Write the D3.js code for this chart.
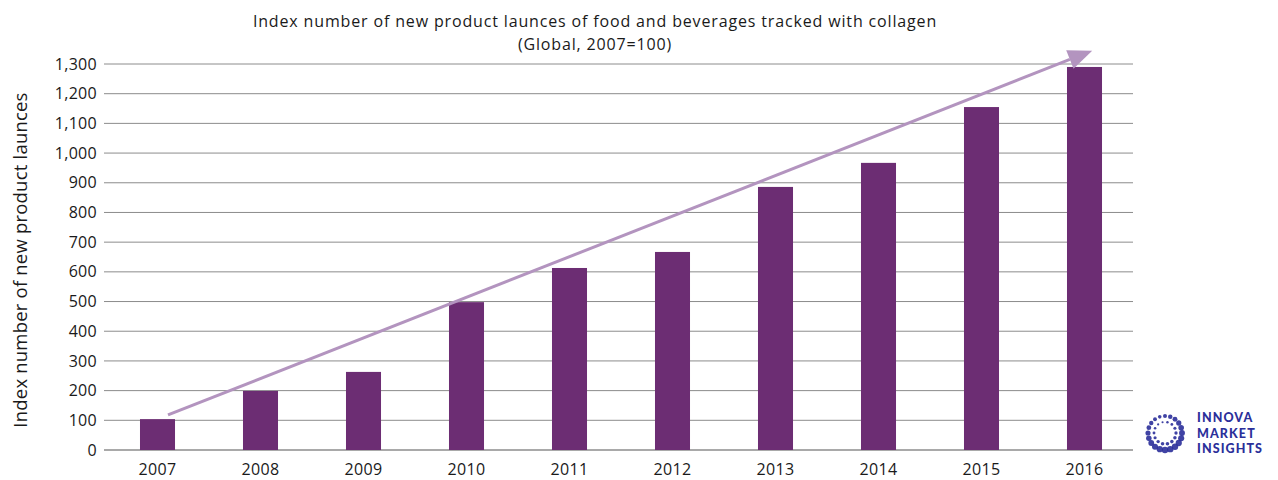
<!DOCTYPE html>
<html>
<head>
<meta charset="utf-8">
<script src="https://cdn.jsdelivr.net/npm/d3@7"></script>
<style>
  body { margin: 0; background: #fff; }
  svg { display: block; font-family: "Open Sans", "Noto Sans", sans-serif; }
</style>
</head>
<body>
<svg id="chart" width="1278" height="480"></svg>
<script>
const years = ["2007","2008","2009","2010","2011","2012","2013","2014","2015","2016"];
const indexValues = [104, 199, 263, 498, 613, 667, 886, 967, 1155, 1290];
const yTicks = [0,100,200,300,400,500,600,700,800,900,1000,1100,1200,1300];
// trend arrow endpoints: [category, value]
const trendStart = ["2007", 118];
const trendEnd = ["2016", 1345];

const svg = d3.select("#chart");
const W = 1278, H = 480;
const gridLeft = 104, gridRight = 1133;

const x = d3.scaleBand().domain(years).range([106, 1136]).paddingInner(0.66).paddingOuter(0.33);
const y = d3.scaleLinear().domain([0, 1300]).range([450, 64]);

// gridlines
svg.append("g").selectAll("line").data(yTicks).join("line")
  .attr("x1", gridLeft).attr("x2", gridRight)
  .attr("y1", d => y(d)).attr("y2", d => y(d))
  .attr("stroke", "#8c8c8c").attr("stroke-width", d => d === 0 ? 1.6 : 1);

// y tick labels
svg.append("g").selectAll("text").data(yTicks).join("text")
  .attr("x", gridLeft - 7).attr("y", d => y(d)).attr("dy", "0.35em")
  .attr("text-anchor", "end").attr("font-size", 16).attr("letter-spacing", 0.3).attr("fill", "#1a1a1a")
  .text(d => d3.format(",")(d));

// bars
svg.append("g").selectAll("rect").data(years).join("rect")
  .attr("x", d => x(d)).attr("width", x.bandwidth())
  .attr("y", (d, i) => y(indexValues[i])).attr("height", (d, i) => y(0) - y(indexValues[i]))
  .attr("fill", "#6c2d73");

// x labels
svg.append("g").selectAll("text").data(years).join("text")
  .attr("x", d => x(d) + x.bandwidth() / 2).attr("y", H - 5)
  .attr("text-anchor", "middle").attr("font-size", 16).attr("letter-spacing", 0.3).attr("fill", "#1a1a1a")
  .text(d => d);

// trend arrow
const ax1 = x(trendStart[0]) + x.bandwidth() * 0.8, ay1 = y(trendStart[1]);
const ax2 = x(trendEnd[0]) + x.bandwidth() * 0.72, ay2 = y(trendEnd[1]);
const ang = Math.atan2(ay2 - ay1, ax2 - ax1);
const headLen = 24, headW = 10;
const bx = ax2 - headLen * Math.cos(ang), by = ay2 - headLen * Math.sin(ang);
svg.append("line")
  .attr("x1", ax1).attr("y1", ay1).attr("x2", bx).attr("y2", by)
  .attr("stroke", "#b394bf").attr("stroke-width", 3);
svg.append("polygon")
  .attr("points", [
    [ax2, ay2],
    [bx + headW * Math.sin(ang), by - headW * Math.cos(ang)],
    [bx - headW * Math.sin(ang), by + headW * Math.cos(ang)]
  ].map(p => p.join(",")).join(" "))
  .attr("fill", "#b394bf");

// title
const title = svg.append("g").attr("font-size", 16).attr("letter-spacing", 0.85).attr("fill", "#1a1a1a");
title.append("text").attr("x", 595).attr("y", 27).attr("text-anchor", "middle")
  .text("Index number of new product launces of food and beverages tracked with collagen");
title.append("text").attr("x", 595).attr("y", 50).attr("text-anchor", "middle")
  .text("(Global, 2007=100)");

// y axis title
svg.append("text")
  .attr("transform", "translate(27, 260) rotate(-90)")
  .attr("text-anchor", "middle").attr("font-size", 18.5).attr("letter-spacing", 0.2).attr("fill", "#1a1a1a")
  .text("Index number of new product launces");

// logo
const logo = svg.append("g").attr("transform", "translate(1165, 433)");
const ringColor = "#2b2f9a";
[[17, 20, 3.2], [11, 14, 1.8]].forEach(([r, n, s]) => {
  d3.range(n).forEach(i => {
    const a = i / n * 2 * Math.PI;
    const sz = s * (0.55 + 0.45 * Math.abs(Math.cos(a / 2 - 0.6)));
    logo.append("circle").attr("cx", r * Math.cos(a)).attr("cy", r * Math.sin(a))
      .attr("r", sz).attr("fill", ringColor).attr("opacity", 0.9);
  });
});
["INNOVA", "MARKET", "INSIGHTS"].forEach((t, i) => {
  logo.append("text").attr("x", 32).attr("y", -15 + i * 15.5).attr("dy", "0.35em")
    .attr("font-size", 12.5).attr("font-weight", 900).attr("letter-spacing", 1.1).attr("fill", ringColor)
    .attr("font-family", "Lato, sans-serif").text(t);
});
</script>
</body>
</html>
